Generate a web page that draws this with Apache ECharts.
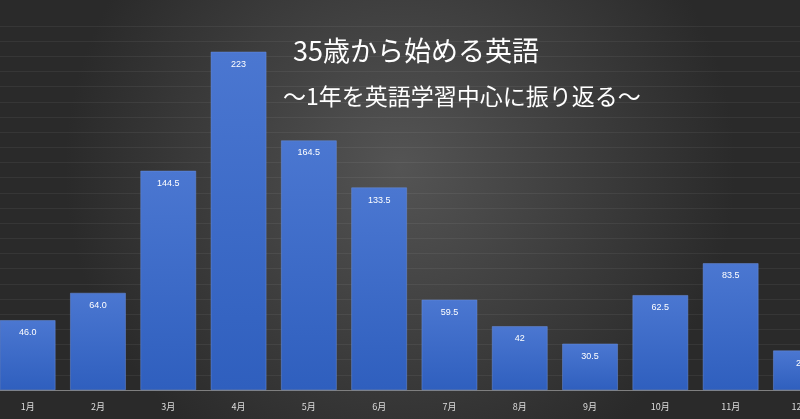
<!DOCTYPE html>
<html><head><meta charset="utf-8">
<script src="https://cdn.jsdelivr.net/npm/echarts@6/dist/echarts.min.js"></script>
<style>html,body{margin:0;padding:0;}#c{width:800px;height:419px;}</style>
</head><body><div id="c"></div>
<script>
const categories = ['1月','2月','3月','4月','5月','6月','7月','8月','9月','10月','11月','12月'];
const values = [46.0, 64.0, 144.5, 223, 164.5, 133.5, 59.5, 42, 30.5, 62.5, 83.5, 26];
const labels = ['46.0','64.0','144.5','223','164.5','133.5','59.5','42','30.5','62.5','83.5','26'];
const titleText = '35歳から始める英語';
const subtitleText = '～1年を英語学習中心に振り返る～';

const chart = echarts.init(document.getElementById('c'));
chart.setOption({
  backgroundColor: {type:'radial', x:0.5, y:0.4, r:0.8, colorStops:[{offset:0,color:'#545454'},{offset:1,color:'#2a2a2a'}]},
  animation:false,
  title:[
    {text:titleText, left:288, top:32, textStyle:{color:'#ffffff', fontSize:27, fontWeight:'normal', fontFamily:'Noto Sans CJK JP'}},
    {text:subtitleText, left:278, top:80, textStyle:{color:'#ffffff', fontSize:23, fontWeight:'normal', fontFamily:'Noto Sans CJK JP'}}
  ],
  grid:{left:-7.5, width:843.6, top:26, bottom:29, containLabel:false, outerBoundsMode:'none'},
  xAxis:{type:'category', data:categories,
    axisLine:{lineStyle:{color:'#7f7f7f'}}, axisTick:{show:false},
    axisLabel:{color:'#dddddd', fontSize:9, margin:12, fontFamily:'Noto Sans CJK JP'}},
  yAxis:{type:'value', min:0, max:240, interval:10, show:true,
    axisLine:{show:false}, axisLabel:{show:false}, axisTick:{show:false},
    splitLine:{lineStyle:{color:'rgba(255,255,255,0.06)'}}},
  series:[{type:'bar', data:values, barCategoryGap:'21%',
    itemStyle:{color:{type:'linear',x:0,y:0,x2:0,y2:1,colorStops:[{offset:0,color:'#4b77d1'},{offset:1,color:'#2f5fbe'}]},
      borderColor:'#6a8fdc', borderWidth:0.5},
    label:{show:true, position:'insideTop', distance:8, color:'#ffffff', fontSize:9,
      formatter:p=>labels[p.dataIndex]}}]
});
</script></body></html>
